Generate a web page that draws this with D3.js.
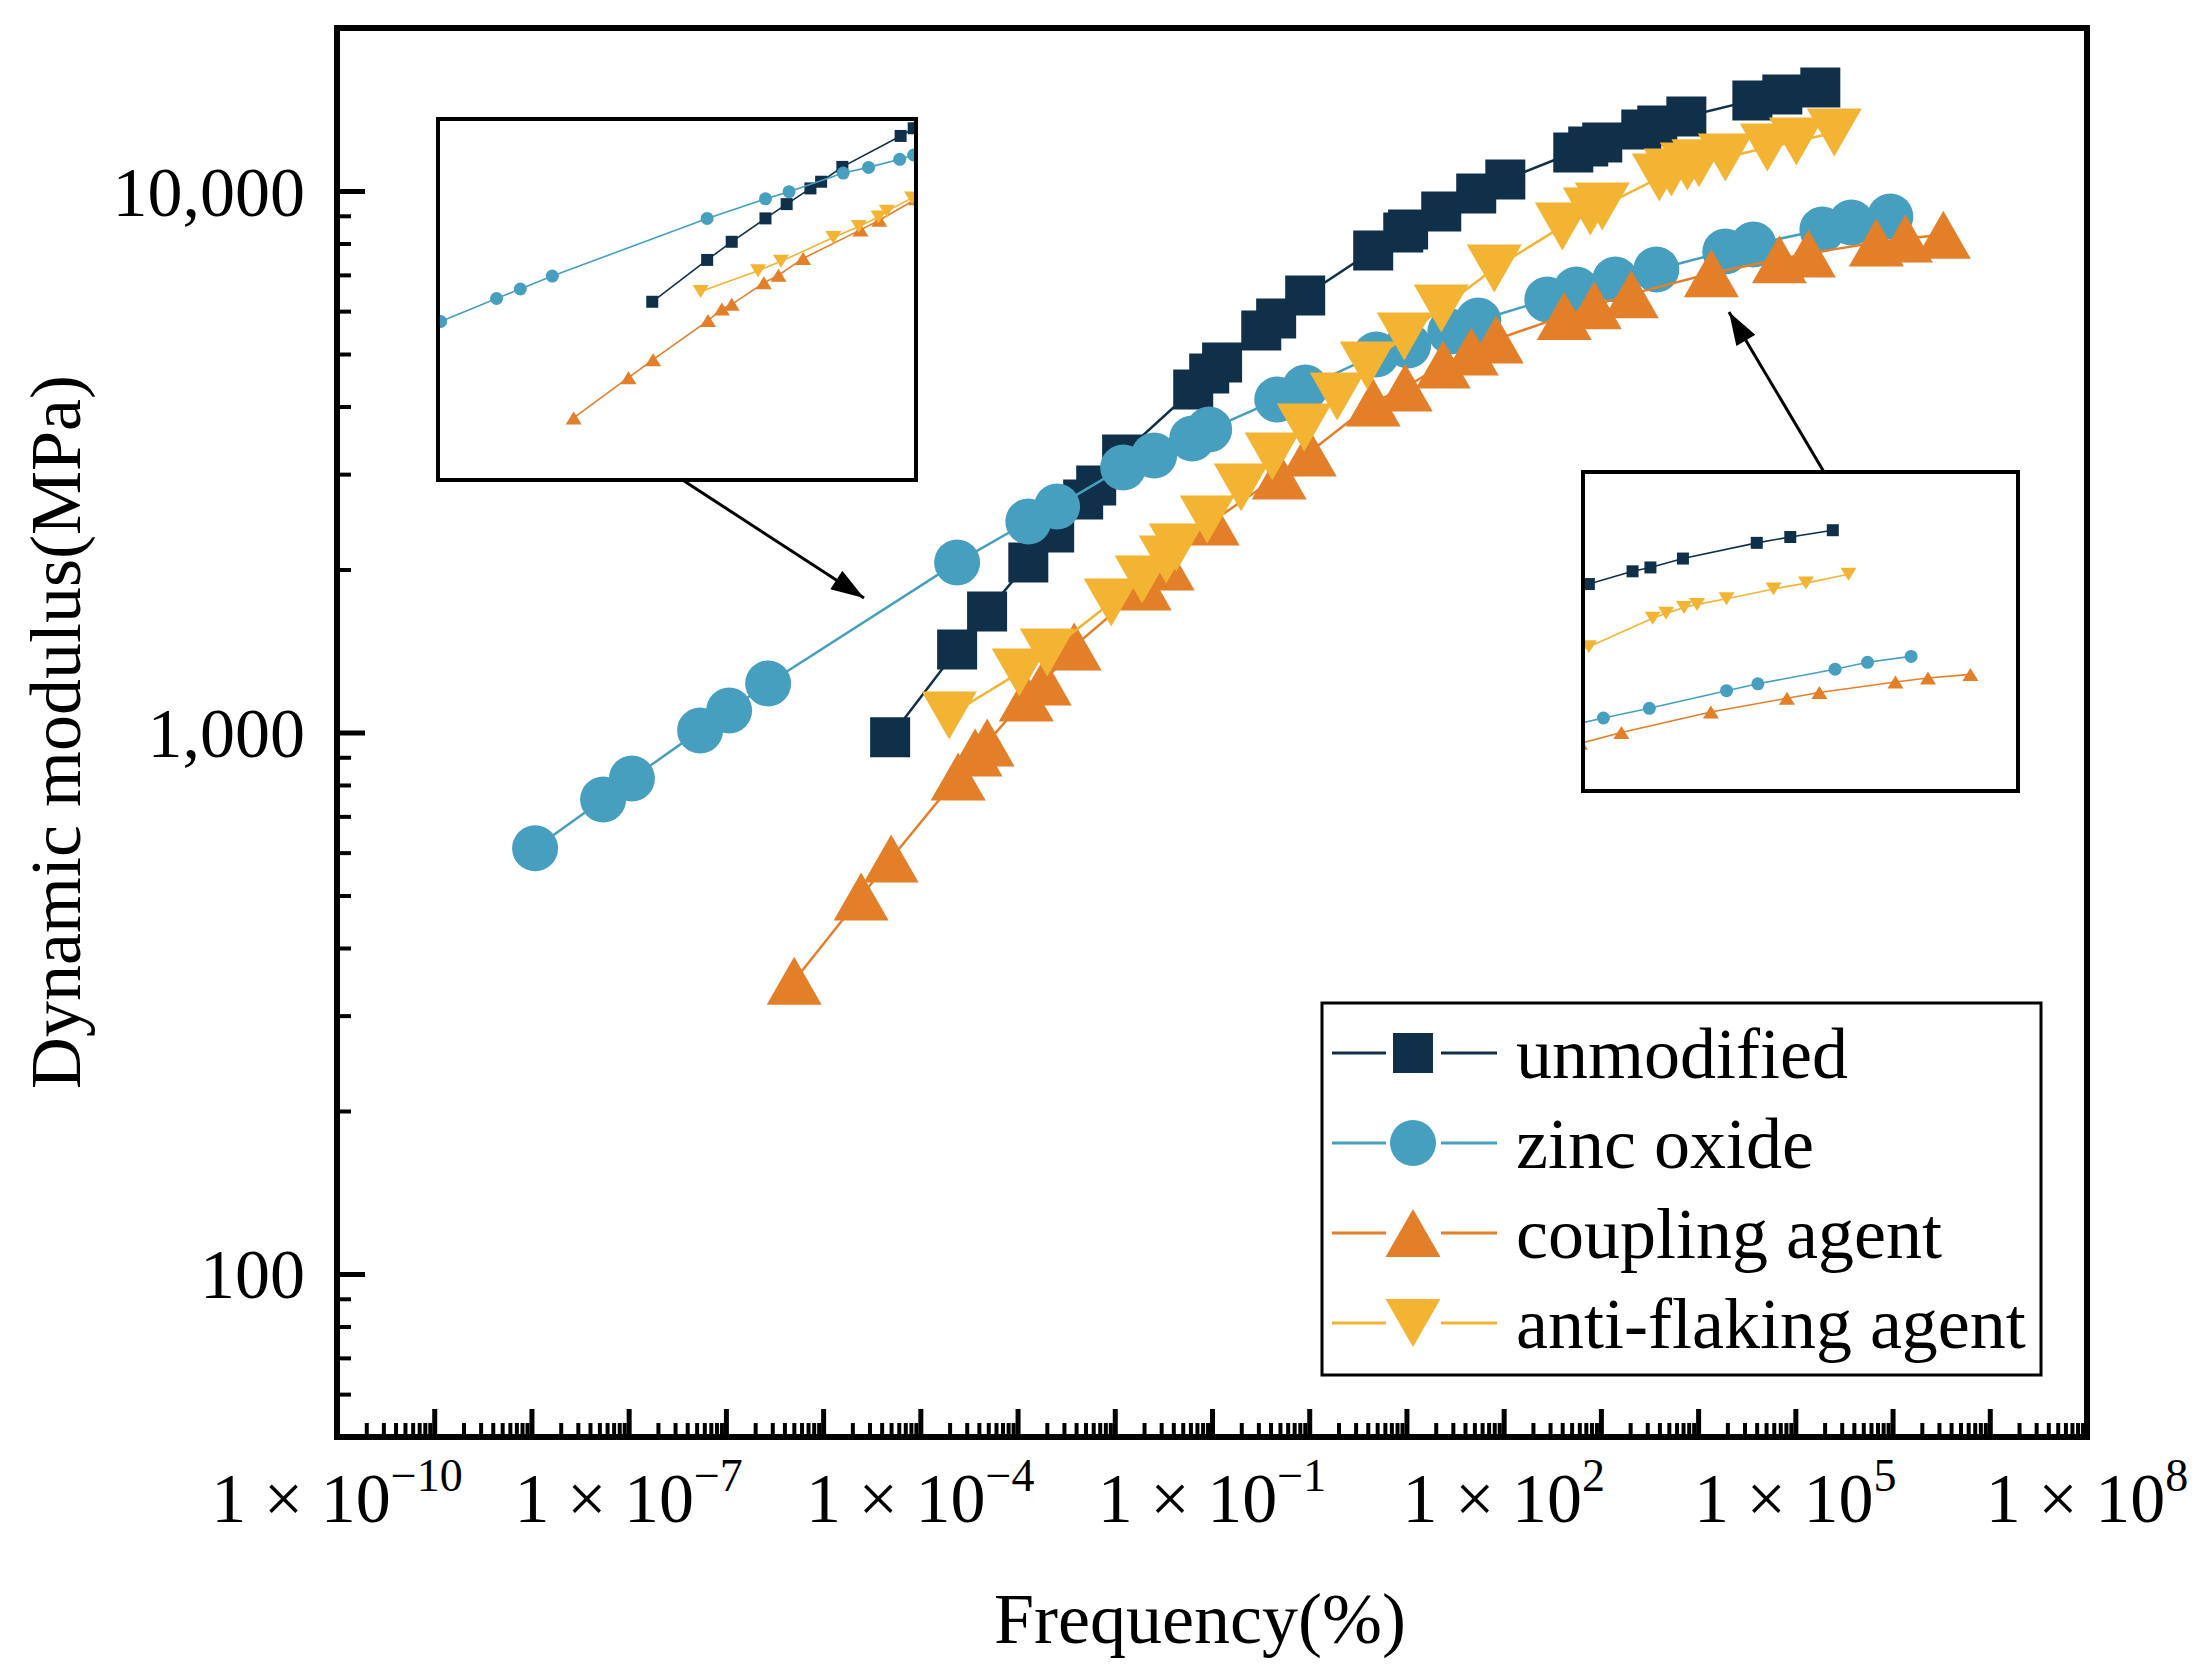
<!DOCTYPE html>
<html>
<head>
<meta charset="utf-8">
<script src="https://cdn.jsdelivr.net/npm/d3@7"></script>
<style>
  body { margin: 0; background: #fff; }
  text { font-family: 'Liberation Serif', 'Times New Roman', serif; fill: #000; }
</style>
</head>
<body>
<svg id="svg" width="2208" height="1674"></svg>
<script>
// values (frequency, dynamic modulus in MPa)
const seriesNames = ['unmodified', 'zinc oxide', 'coupling agent', 'anti-flaking agent'];
const seriesColors = ['#10304a', '#469fbe', '#e47f29', '#f4b433'];
const seriesShapes = ['square', 'circle', 'up', 'down'];

const freqUnmodified = [4.89e-5, 2.39e-4, 4.86e-4, 1.29e-3, 2.38e-3, 4.73e-3, 6.44e-3, 0.0119, 0.0641, 0.0936, 0.127, 0.321, 0.457, 0.909, 4.55, 9.27, 10.4, 22.8, 52.2, 104, 520, 741, 1033, 2604, 3802, 7568, 36140, 73450, 180700];
const modUnmodified = [980, 1423, 1673, 2061, 2341, 2693, 2858, 3262, 4299, 4603, 4825, 5526, 5816, 6412, 7765, 8384, 8492, 9166, 9894, 10500, 11780, 12080, 12290, 12990, 13210, 13730, 14700, 15080, 15530];

const freqZinc = [1.09e-8, 5.46e-8, 1.08e-7, 5.43e-7, 1.08e-6, 2.72e-6, 2.39e-4, 1.29e-3, 2.55e-3, 0.0122, 0.0254, 0.0625, 0.0935, 0.469, 0.910, 4.89, 10.4, 28.3, 54.8, 281, 559, 1406, 3715, 19050, 36980, 189700, 376800, 948500];
const modZinc = [611, 752, 822, 1009, 1098, 1232, 2061, 2453, 2615, 3087, 3248, 3491, 3627, 4121, 4336, 4991, 5184, 5503, 5767, 6303, 6578, 6866, 7161, 7732, 7966, 8490, 8747, 8974];

const freqCoupling = [5.04e-6, 2.46e-5, 5.01e-5, 2.45e-4, 3.66e-4, 4.87e-4, 1.23e-3, 1.88e-3, 3.82e-3, 0.0201, 0.0346, 0.1005, 0.491, 1.0, 4.55, 9.72, 23.9, 46.4, 83.9, 420, 855, 2054, 13680, 68460, 136100, 680800, 1.355e6, 3.33e6];
const modCoupling = [348, 498, 585, 829, 918, 958, 1160, 1242, 1442, 1860, 2026, 2453, 2983, 3289, 4068, 4336, 4783, 5053, 5318, 5880, 6150, 6450, 7050, 7480, 7670, 8030, 8170, 8300];

const freqAntiFlaking = [1.98e-4, 1.04e-3, 2.02e-3, 9.19e-3, 0.0191, 0.0338, 0.0429, 0.0893, 0.1996, 0.416, 0.889, 1.94, 3.95, 9.49, 22.8, 80.0, 401, 778, 1033, 3990, 5300, 7740, 10200, 19050, 51520, 102400, 251800];
const modAntiFlaking = [1075, 1291, 1405, 1738, 1916, 2087, 2196, 2474, 2835, 3234, 3658, 4174, 4762, 5386, 6067, 7194, 8601, 9166, 9363, 10590, 10820, 11100, 11250, 11530, 12030, 12340, 12820];

const xLabelExponents = [-10, -7, -4, -1, 2, 5, 8];
const yLabelValues = [100, 1000, 10000];

const series = [
  [freqUnmodified, modUnmodified],
  [freqZinc, modZinc],
  [freqCoupling, modCoupling],
  [freqAntiFlaking, modAntiFlaking]
].map((s, i) => ({
  name: seriesNames[i],
  color: seriesColors[i],
  shape: seriesShapes[i],
  points: s[0].map((f, j) => [f, s[1][j]])
}));

const svg = d3.select('#svg');

const x = d3.scaleLog().domain([1e-10, 1e8]).range([337, 2087]);
const y = d3.scaleLog().domain([50, 20000]).range([1437, 28]);

// marker outlines centred on 0,0
function markerPath(shape, m) {
  if (shape === 'square') {
    const a = m.sq / 2;
    return `M${-a},${-a}H${a}V${a}H${-a}Z`;
  }
  if (shape === 'circle') {
    const r = m.r;
    return `M${-r},0A${r},${r} 0 1,0 ${r},0A${r},${r} 0 1,0 ${-r},0Z`;
  }
  const w = m.tw / 2, h = m.th / 2;
  if (shape === 'up') return `M0,${-h}L${w},${h}L${-w},${h}Z`;
  return `M0,${h}L${w},${-h}L${-w},${-h}Z`;
}

const bigMarker = {sq: 40, r: 23, tw: 55, th: 48};
const smallMarker = {sq: 12, r: 6.5, tw: 16, th: 13};

function drawSeries(g, sx, sy, m, lw) {
  const line = d3.line().x(d => sx(d[0])).y(d => sy(d[1]));
  series.forEach(s => {
    g.append('path').datum(s.points)
      .attr('d', line)
      .attr('fill', 'none')
      .attr('stroke', s.color)
      .attr('stroke-width', lw);
    g.selectAll(null).data(s.points).enter().append('path')
      .attr('d', markerPath(s.shape, m))
      .attr('transform', d => `translate(${sx(d[0])},${sy(d[1])})`)
      .attr('fill', s.color);
  });
}

// ticks (inward)
const decades = d3.range(-10, 9).map(k => Math.pow(10, k));
const minorX = [];
d3.range(-10, 8).forEach(k => d3.range(2, 10).forEach(mm => minorX.push(mm * Math.pow(10, k))));

const xAxisG = svg.append('g').attr('transform', 'translate(0,1437)');
xAxisG.append('g')
  .call(d3.axisBottom(x).tickValues(decades).tickSize(-28).tickFormat(''))
  .call(g => g.select('.domain').remove())
  .selectAll('line').attr('stroke-width', 5);
xAxisG.append('g')
  .call(d3.axisBottom(x).tickValues(minorX).tickSize(-14).tickFormat(''))
  .call(g => g.select('.domain').remove())
  .selectAll('line').attr('stroke-width', 4);

const minorY = [60, 70, 80, 90, 200, 300, 400, 500, 600, 700, 800, 900,
  2000, 3000, 4000, 5000, 6000, 7000, 8000, 9000];
const yAxisG = svg.append('g').attr('transform', 'translate(337,0)');
yAxisG.append('g')
  .call(d3.axisLeft(y).tickValues(yLabelValues).tickSize(-28).tickFormat(''))
  .call(g => g.select('.domain').remove())
  .selectAll('line').attr('stroke-width', 5);
yAxisG.append('g')
  .call(d3.axisLeft(y).tickValues(minorY).tickSize(-14).tickFormat(''))
  .call(g => g.select('.domain').remove())
  .selectAll('line').attr('stroke-width', 4);

// tick labels
svg.selectAll('.xlab').data(xLabelExponents).enter().append('text')
  .attr('class', 'xlab')
  .attr('x', d => x(Math.pow(10, d)))
  .attr('y', 1522)
  .attr('text-anchor', 'middle')
  .style('font-size', '70px')
  .each(function(d) {
    const t = d3.select(this);
    t.append('tspan').text('1 × 10');
    t.append('tspan').attr('dy', -31).style('font-size', '46px')
      .text(d < 0 ? '\u2212' + Math.abs(d) : String(d));
  });

svg.selectAll('.ylab').data(yLabelValues).enter().append('text')
  .attr('class', 'ylab')
  .attr('x', 305)
  .attr('y', d => y(d))
  .attr('dy', '0.35em')
  .attr('text-anchor', 'end')
  .style('font-size', '70px')
  .text(d3.format(','));

// axis titles
svg.append('text')
  .attr('x', 1200).attr('y', 1643)
  .attr('text-anchor', 'middle')
  .style('font-size', '72px')
  .text('Frequency(%)');

svg.append('text')
  .attr('transform', 'translate(80,732) rotate(-90)')
  .attr('text-anchor', 'middle')
  .style('font-size', '72px')
  .text('Dynamic modulus(MPa)');

// main data
drawSeries(svg.append('g'), x, y, bigMarker, 2.5);

// frame
svg.append('rect')
  .attr('x', 337).attr('y', 28)
  .attr('width', 2087 - 337).attr('height', 1437 - 28)
  .attr('fill', 'none').attr('stroke', '#000').attr('stroke-width', 6);

// insets: magnified views of the same data
const insets = [
  {x0: 438, y0: 119, x1: 916, y1: 480, xd: [1e-7, 1e-1], yd: [200, 5000]},
  {x0: 1583, y0: 472, x1: 2018, y1: 791, xd: [Math.pow(10, 2.96), Math.pow(10, 6.96)], yd: [5000, 20000]}
];
const defs = svg.append('defs');
insets.forEach((b, i) => {
  defs.append('clipPath').attr('id', 'clip' + i)
    .append('rect').attr('x', b.x0).attr('y', b.y0)
    .attr('width', b.x1 - b.x0).attr('height', b.y1 - b.y0);
  svg.append('rect').attr('x', b.x0).attr('y', b.y0)
    .attr('width', b.x1 - b.x0).attr('height', b.y1 - b.y0)
    .attr('fill', '#fff');
  const ix = d3.scaleLog().domain(b.xd).range([b.x0, b.x1]);
  const iy = d3.scaleLog().domain(b.yd).range([b.y1, b.y0]);
  drawSeries(svg.append('g').attr('clip-path', `url(#clip${i})`), ix, iy, smallMarker, 1.6);
  svg.append('rect').attr('x', b.x0).attr('y', b.y0)
    .attr('width', b.x1 - b.x0).attr('height', b.y1 - b.y0)
    .attr('fill', 'none').attr('stroke', '#000').attr('stroke-width', 4);
});

// arrows
defs.append('marker').attr('id', 'head')
  .attr('viewBox', '0 0 12 8').attr('refX', 12).attr('refY', 4)
  .attr('markerUnits', 'userSpaceOnUse')
  .attr('markerWidth', 36).attr('markerHeight', 22)
  .attr('orient', 'auto')
  .append('path').attr('d', 'M0,0L12,4L0,8Z').attr('fill', '#000');

const arrows = [[681, 479, 864, 598], [1824, 472, 1729, 312]];
svg.selectAll('.arrow').data(arrows).enter().append('line')
  .attr('x1', d => d[0]).attr('y1', d => d[1])
  .attr('x2', d => d[2]).attr('y2', d => d[3])
  .attr('stroke', '#000').attr('stroke-width', 3)
  .attr('marker-end', 'url(#head)');

// legend
const legend = svg.append('g');
legend.append('rect')
  .attr('x', 1322).attr('y', 1003).attr('width', 719).attr('height', 372)
  .attr('fill', '#fff').attr('stroke', '#000').attr('stroke-width', 3);
const rows = legend.selectAll('.row').data(series).enter().append('g')
  .attr('transform', (d, i) => `translate(0,${1053 + i * 90})`);
rows.append('line').attr('x1', 1332).attr('x2', 1386).attr('y1', 0).attr('y2', 0)
  .attr('stroke', d => d.color).attr('stroke-width', 3);
rows.append('line').attr('x1', 1441).attr('x2', 1497).attr('y1', 0).attr('y2', 0)
  .attr('stroke', d => d.color).attr('stroke-width', 3);
rows.append('path')
  .attr('d', d => markerPath(d.shape, bigMarker))
  .attr('transform', 'translate(1413,0)')
  .attr('fill', d => d.color);
rows.append('text')
  .attr('x', 1516).attr('dy', '0.35em')
  .style('font-size', '72px')
  .text(d => d.name);
</script>
</body>
</html>
